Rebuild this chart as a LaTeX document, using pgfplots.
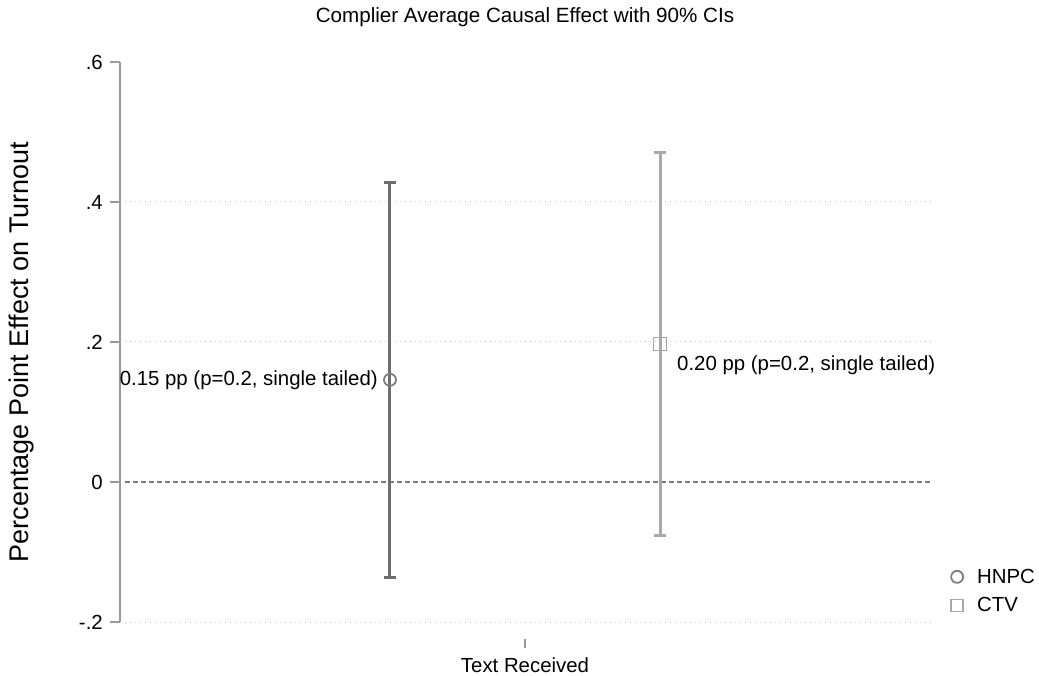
\documentclass[border=0pt]{standalone}
\usepackage{pgfplots}
\pgfplotsset{compat=1.18}
\usepackage{fontspec}
\setmainfont{Liberation Sans}
\definecolor{darkg}{HTML}{6E6E6E}
\definecolor{lightg}{HTML}{A8A8A8}
\definecolor{axg}{HTML}{9A9A9A}
\definecolor{gridg}{HTML}{C4C4C4}
\definecolor{zerog}{HTML}{7A7A7A}
\newcommand{\fs}{\fontsize{20.4}{24}\selectfont}
\begin{document}
\begin{tikzpicture}
\useasboundingbox (0pt,0pt) rectangle (1039pt,675pt);
\begin{axis}[
  at={(120pt,53pt)}, anchor=south west,
  scale only axis, width=810pt, height=560pt,
  xmin=0, xmax=1, ymin=-0.2, ymax=0.6,
  hide x axis,
  axis y line*=left,
  y axis line style={axg, line width=1.5pt, -},
  ytick={-0.2,0,0.2,0.4,0.6},
  yticklabels={-.2,0,.2,.4,.6},
  tick align=outside,
  major tick length=10pt,
  ytick style={axg, line width=1.2pt},
  yticklabel style={font=\fs, text=black, inner sep=0pt, xshift=-7pt},
  clip=false,
  legend style={at={(1.0259,0.055)}, anchor=west, draw=none, fill=none,
    font=\fs, row sep=9pt, inner sep=0pt,
    /tikz/every odd column/.style={column sep=12pt}},
  legend cell align=left,
]
% grid lines
\draw[gridg, line width=1pt, dash pattern=on 1pt off 4pt] (axis cs:0.006,-0.2) -- (axis cs:1,-0.2);
\draw[gridg, line width=1pt, dash pattern=on 1pt off 4pt] (axis cs:0.006,0.2) -- (axis cs:1,0.2);
\draw[gridg, line width=1pt, dash pattern=on 1pt off 4pt] (axis cs:0.006,0.4) -- (axis cs:1,0.4);
\draw[zerog, line width=1.3pt, dash pattern=on 5pt off 3pt] (axis cs:0.006,0) -- (axis cs:1,0);
% x tick and label
\draw[axg, line width=1.2pt] (axis cs:0.5,-0.2243) -- (axis cs:0.5,-0.2371);
\node[font=\fs] at (axis cs:0.5,-0.2614) {Text Received};
\node[font=\fontsize{20.6}{24}\selectfont] at (axis cs:0.5,0.6643) {Complier Average Causal Effect with 90\% CIs};
\node[font=\fontsize{27}{30}\selectfont, rotate=90] at (axis cs:-0.121,0.1857) {Percentage Point Effect on Turnout};

\addplot[forget plot, only marks, darkg, mark=o, mark size=6pt,
  mark options={line width=1.8pt, draw=darkg!90, fill=none},
  error bars/.cd, y dir=both, y explicit,
  error bar style={line width=3pt, darkg},
  error mark options={rotate=90, darkg, line width=3pt, mark size=6pt}]
  coordinates {(0.3333,0.146) +- (0,0.2825)};
\addplot[forget plot, only marks, lightg, mark=square, mark size=6.5pt,
  mark options={line width=1.8pt, draw=lightg, fill=none},
  error bars/.cd, y dir=both, y explicit,
  error bar style={line width=3pt, lightg},
  error mark options={rotate=90, lightg, line width=3pt, mark size=6pt}]
  coordinates {(0.6667,0.197) +- (0,0.2735)};

\node[anchor=east, font=\fs, inner sep=0pt] at (axis cs:0.3333,0.146) [xshift=-12pt] {0.15 pp (p=0.2, single tailed)};
\node[anchor=west, font=\fs, inner sep=0pt] at (axis cs:0.6667,0.167) [xshift=17pt] {0.20 pp (p=0.2, single tailed)};

\addlegendimage{only marks, mark=o, mark size=6pt, mark options={line width=1.8pt, draw=darkg!90}}
\addlegendentry{HNPC}
\addlegendimage{only marks, mark=square, mark size=6pt, mark options={line width=1.8pt, draw=lightg}}
\addlegendentry{CTV}
\end{axis}
\end{tikzpicture}
\end{document}
